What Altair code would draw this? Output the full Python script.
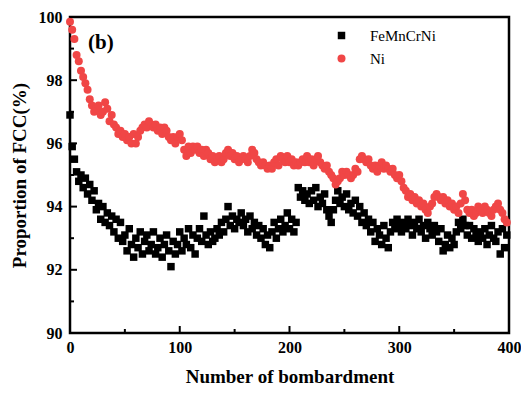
import altair as alt
import pandas as pd

# Proportion of FCC (%) sampled every 2 bombardments (0, 2, ..., 398)
fe_vals = [
    96.9, 95.9, 95.5, 95.1, 94.8, 95.0, 94.6, 94.9, 94.4, 94.7,
    94.2, 94.5, 93.9, 94.1, 93.6, 94.0, 93.5, 93.8, 93.4, 93.7,
    93.2, 93.6, 93.0, 93.5, 92.9, 93.1, 92.6, 93.3, 92.8, 92.4,
    93.0, 92.7, 93.2, 92.5, 92.9, 93.1, 92.6, 92.8, 93.2, 92.5,
    92.7, 93.0, 92.4, 92.8, 93.1, 92.6, 92.1, 92.9, 92.5, 92.8,
    93.2, 92.6, 93.0, 92.8, 93.3, 92.7, 93.1, 92.5, 93.0, 93.3,
    92.9, 93.7, 93.1, 92.8, 93.2, 92.9, 93.0, 93.3, 93.1, 93.5,
    93.2, 93.6, 94.0, 93.4, 93.7, 93.3, 93.6, 93.5, 93.8, 93.4,
    93.6, 93.2, 93.7, 93.3, 93.5, 93.1, 93.4, 93.0, 93.3, 92.8,
    93.1, 92.7, 93.2, 93.5, 93.0, 93.3, 93.6, 93.2, 93.4, 93.8,
    93.3, 93.6, 93.2, 93.5, 94.6, 94.3, 94.5, 94.2, 94.4, 94.1,
    94.5, 94.2, 94.6, 94.0, 94.3, 94.1, 94.4, 93.9, 93.7, 93.5,
    93.9, 94.2, 94.5, 94.1, 94.3, 94.0, 94.4, 93.9, 94.1, 93.8,
    94.2, 93.7, 94.0, 93.5, 93.8, 93.4, 93.6, 93.2, 93.5, 92.9,
    93.3, 93.1, 92.8, 93.4, 93.0, 92.7, 93.2, 93.5, 93.3, 93.6,
    93.4, 93.2, 93.5, 93.3, 93.6, 93.4, 93.1, 93.5, 93.3, 93.6,
    93.2, 93.4, 93.0, 93.5, 93.3, 93.1, 93.4, 93.2, 92.9, 93.3,
    92.6, 92.8, 93.1, 92.7, 93.0, 92.8, 93.2, 93.5, 93.3, 93.6,
    93.4, 93.1, 93.4, 93.0, 93.3, 93.1, 92.9, 93.2, 93.0, 93.3,
    92.8, 93.1, 93.4, 93.0, 92.9, 93.2, 92.5, 93.3, 92.7, 93.1,
]

ni_vals = [
    99.85, 99.6, 99.3, 98.8, 98.6, 98.3, 98.1, 97.9, 97.7, 97.4,
    97.2, 97.0, 97.1, 97.2, 96.9, 97.0, 97.3, 97.1, 96.7, 96.9,
    96.6, 96.5, 96.3, 96.4, 96.2, 96.3, 96.1, 96.2, 96.0, 96.3,
    96.0, 96.2, 96.4, 96.5, 96.6, 96.5, 96.7, 96.6, 96.5, 96.6,
    96.4, 96.5, 96.3, 96.5, 96.4, 96.2, 96.1, 96.2, 96.0, 96.2,
    96.3, 96.1, 95.8, 95.6, 95.9, 95.7, 95.9, 95.8, 95.9, 95.7,
    95.8, 95.6, 95.8, 95.7, 95.5, 95.6, 95.4, 95.5, 95.6, 95.4,
    95.5, 95.7, 95.8, 95.6, 95.7, 95.5, 95.6, 95.4, 95.5, 95.6,
    95.5, 95.4, 95.6, 95.8, 95.7, 95.5, 95.4, 95.3, 95.4, 95.3,
    95.2, 95.3, 95.2, 95.4, 95.5, 95.3, 95.6, 95.5, 95.4, 95.6,
    95.4, 95.5, 95.3, 95.4, 95.3, 95.4, 95.5, 95.4, 95.6, 95.4,
    95.5, 95.3, 95.5, 95.6, 95.4, 95.3, 95.2, 95.3, 95.1, 95.0,
    94.9, 94.7, 94.8, 94.9, 95.1, 95.0, 95.1, 95.0, 94.9, 95.0,
    95.2, 95.1, 95.5, 95.6, 95.5, 95.4, 95.5, 95.3, 95.2, 95.3,
    95.1, 95.3, 95.4, 95.2, 95.3, 95.2, 95.1, 95.2, 95.0, 94.9,
    95.0, 94.8, 94.6, 94.5, 94.3, 94.4, 94.2, 94.3, 94.1, 94.2,
    94.0, 94.1, 93.9, 93.8, 94.0, 94.1, 94.3, 94.4, 94.3, 94.2,
    94.3, 94.1, 94.2, 94.0, 94.1, 93.9, 94.0, 93.8, 94.1, 94.4,
    94.2, 93.9, 93.8, 93.9, 93.7, 93.8, 94.0, 93.9, 93.8, 94.0,
    93.9, 93.8, 93.7, 93.9, 94.0, 94.1, 93.9, 93.8, 93.6, 93.5,
]

fe_x = list(range(0, 2 * len(fe_vals), 2))
ni_x = list(range(0, 2 * len(ni_vals), 2))

series_names = ["FeMnCrNi", "Ni"]
series_colors = ["#000000", "#F04646"]
series_shapes = ["square", "circle"]
series_sizes = [56, 64]

x_major = [0, 100, 200, 300, 400]
x_minor = [50, 150, 250, 350]
y_major = [90, 92, 94, 96, 98, 100]
y_minor = [91, 93, 95, 97, 99]

df = pd.DataFrame({
    "n": fe_x + ni_x,
    "p": fe_vals + ni_vals,
    "s": [series_names[0]] * len(fe_vals) + [series_names[1]] * len(ni_vals),
})

W, H = 439, 316
FONT = "Liberation Serif"

xs = alt.Scale(domain=[0, 400], nice=False, zero=False)
ys = alt.Scale(domain=[90, 100], nice=False, zero=False)

x_axis = alt.Axis(title="Number of bombardment", values=x_major, format="d",
                  tickSize=0, domain=False, grid=False, labelPadding=6,
                  titlePadding=12, labelFlush=False)
y_axis = alt.Axis(title="Proportion of FCC(%)", values=y_major, format="d",
                  tickSize=0, domain=False, grid=False, labelPadding=8,
                  titlePadding=9, labelFlush=False)

legend_common = dict(title=None)

points = alt.Chart(df).mark_point(filled=True, opacity=1, strokeWidth=0).encode(
    x=alt.X("n:Q", scale=xs, axis=x_axis),
    y=alt.Y("p:Q", scale=ys, axis=y_axis),
    color=alt.Color("s:N", scale=alt.Scale(domain=series_names, range=series_colors),
                    legend=alt.Legend(**legend_common)),
    shape=alt.Shape("s:N", scale=alt.Scale(domain=series_names, range=series_shapes),
                    legend=alt.Legend(**legend_common)),
    size=alt.Size("s:N", scale=alt.Scale(domain=series_names, range=series_sizes),
                  legend=alt.Legend(**legend_common)),
    order=alt.Order("s:N"),
)

def xticks(vals, length):
    d = pd.DataFrame({"n": vals})
    return alt.Chart(d).mark_rule(color="black", strokeWidth=2).encode(
        x=alt.X("n:Q", scale=xs), y=alt.value(H), y2=alt.value(H - length))

def yticks(vals, length):
    d = pd.DataFrame({"p": vals})
    return alt.Chart(d).mark_rule(color="black", strokeWidth=2).encode(
        y=alt.Y("p:Q", scale=ys), x=alt.value(0), x2=alt.value(length))

label_df = pd.DataFrame({"t": ["(b)"]})
label = alt.Chart(label_df).mark_text(
    font=FONT, fontSize=21, fontWeight="bold", align="left", baseline="alphabetic",
    color="black").encode(text="t:N", x=alt.value(18), y=alt.value(32))

chart = alt.layer(
    points,
    xticks(x_major, 7), xticks(x_minor, 4),
    yticks(y_major, 7), yticks(y_minor, 4),
    label,
).properties(
    width=W, height=H,
    autosize=alt.AutoSizeParams(type="none"),
    padding={"left": 62, "top": 9, "right": 12, "bottom": 55},
).configure_view(
    stroke="black", strokeWidth=2.5
).configure_axis(
    labelFont=FONT, labelFontSize=16, labelFontWeight="bold", labelColor="black",
    titleFont=FONT, titleFontSize=19, titleFontWeight="bold", titleColor="black",
).configure_legend(
    orient="none", legendX=264, legendY=11, padding=0,
    labelFont=FONT, labelFontSize=15, labelColor="black",
    labelOffset=21, rowPadding=7, symbolStrokeWidth=0,
)

chart.save("out.html", embed_options={"renderer": "svg", "actions": False})
